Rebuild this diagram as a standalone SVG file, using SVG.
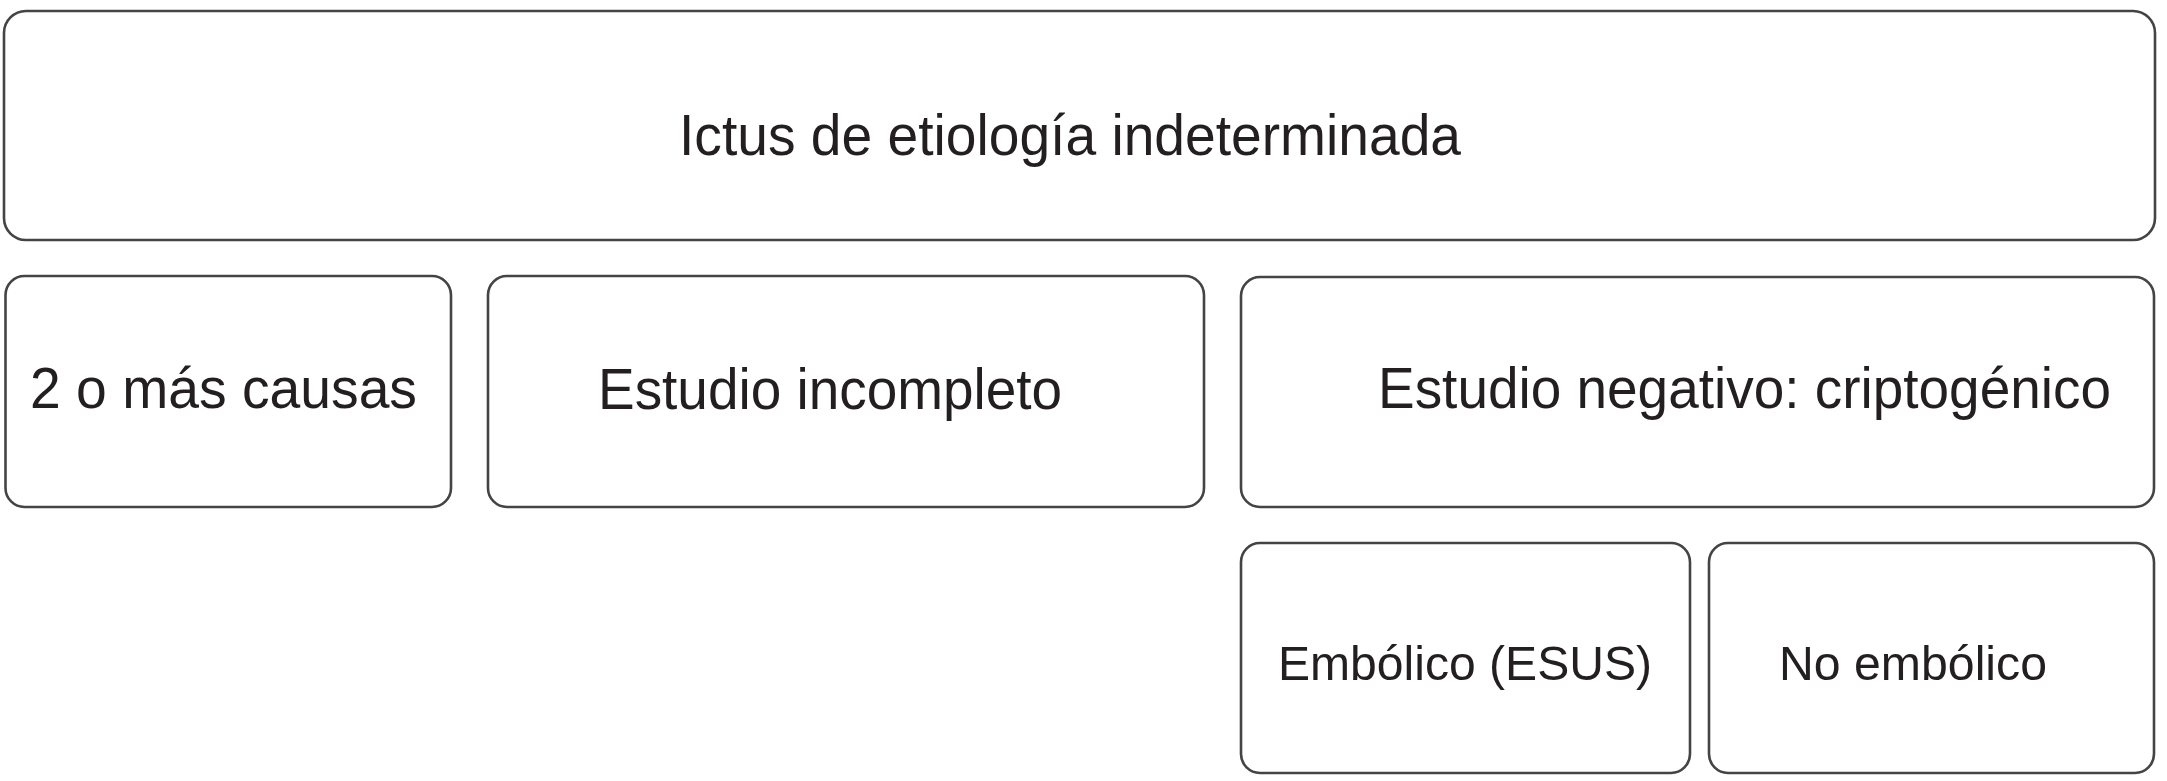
<svg xmlns="http://www.w3.org/2000/svg" width="2167" height="781" viewBox="0 0 2167 781">
<style>
.box{fill:#fff;stroke:#444;stroke-width:2.6}
.t{font-family:"Liberation Sans",Arial,sans-serif;fill:#231f20;font-size:57px}
.s{font-size:49px}
</style>
<rect width="2167" height="781" fill="#fff"/>
<g id="connectors"></g>
<g id="n-top">
<rect class="box" x="4" y="11" width="2151" height="229" rx="22"/>
<text class="t" x="679" y="155" textLength="782" lengthAdjust="spacingAndGlyphs">Ictus de etiología indeterminada</text>
</g>
<g id="n-causas">
<rect class="box" x="5.5" y="276" width="445.5" height="231" rx="19"/>
<text class="t" x="30" y="408" textLength="387" lengthAdjust="spacingAndGlyphs">2 o más causas</text>
</g>
<g id="n-incompleto">
<rect class="box" x="488" y="276" width="716" height="231" rx="19"/>
<text class="t" x="598" y="409" textLength="464" lengthAdjust="spacingAndGlyphs">Estudio incompleto</text>
</g>
<g id="n-negativo">
<rect class="box" x="1241" y="277" width="913" height="230" rx="19"/>
<text class="t" x="1378" y="408" textLength="733" lengthAdjust="spacingAndGlyphs">Estudio negativo: criptogénico</text>
</g>
<g id="n-embolico">
<rect class="box" x="1241" y="543" width="449" height="230" rx="19"/>
<text class="t s" x="1278" y="680" textLength="374" lengthAdjust="spacingAndGlyphs">Embólico (ESUS)</text>
</g>
<g id="n-noembolico">
<rect class="box" x="1709" y="543" width="445" height="230" rx="19"/>
<text class="t s" x="1779" y="680" textLength="268" lengthAdjust="spacingAndGlyphs">No embólico</text>
</g>
</svg>
